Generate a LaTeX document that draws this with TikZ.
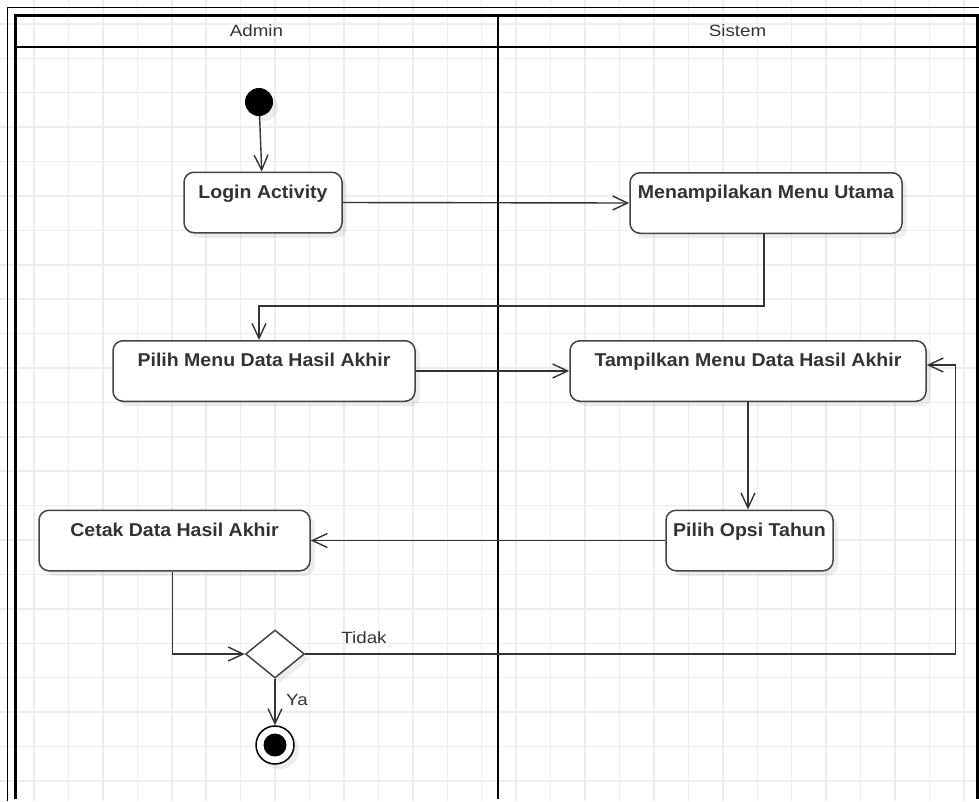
\documentclass[tikz,border=0pt]{standalone}
\usepackage{fontspec}
\setmainfont{Liberation Sans}
\newfontfamily\labelfont[FakeStretch=1.15]{Liberation Sans}
\newfontfamily\actfont[FakeStretch=1.05]{Liberation Sans}
\usetikzlibrary{arrows.meta,shapes.geometric,shadows,calc}

\definecolor{ink}{HTML}{333333}
\definecolor{edge}{HTML}{444444}
\definecolor{gridc}{HTML}{EDEDED}

\begin{document}
\begin{tikzpicture}[x=1pt,y=-1pt,
  gridline/.style={gridc,line width=1.5pt},
  softshadow/.style={drop shadow={shadow xshift=5pt,shadow yshift=-5pt,fill=black,opacity=0.07}},
  act/.style={draw=edge,line width=1.5pt,rounded corners=10pt,fill=white,
    inner xsep=0pt,inner ysep=0pt,text height=26pt,text depth=34.5pt,
    font=\actfont\bfseries\fontsize{18.6}{22}\selectfont,text=ink,softshadow},
  flow/.style={draw=ink,line width=1.4pt,-{Straight Barb[length=15pt,width=14pt,line width=1.4pt]}},
  lbl/.style={font=\labelfont\fontsize{16.3}{19}\selectfont,text=ink,inner sep=0pt},
  lane/.style={black,line width=2.5pt},
  frame/.style={black,line width=1.3pt}]

\useasboundingbox (0,0) rectangle (979,801);

% background grid
\foreach \k in {1,...,28}
  \draw[gridline] ({\k*34.44-0.44},0) -- ++(0,801);
\foreach \k in {0,...,22}
  \draw[gridline] (0,{23.9+\k*34.41}) -- ++(979,0);

% outer frame and swimlanes
\draw[frame] (7.5,801) -- (7.5,7.5) -- (979,7.5);
\draw[lane] (15.5,799) -- (15.5,15.5) -- (977.5,15.5) -- (977.5,799);
\draw[lane] (15.5,47) -- (977.5,47);
\draw[lane] (498,15.5) -- (498,799);
\node[lbl] (hadmin) at (256.5,31) {Admin};
\node[lbl] (hsistem) at (737.5,31) {Sistem};

% activities
\node[circle,fill=black,minimum size=28pt,inner sep=0pt,softshadow] (start) at (259,102) {};
\node[act,minimum width=158pt] (login) at (263,202.5) {Login Activity};
\node[act,minimum width=272pt] (menu) at (766,203) {Menampilakan Menu Utama};
\node[act,minimum width=302pt] (pilih) at (264,371) {Pilih Menu Data Hasil Akhir};
\node[act,minimum width=356pt] (tampil) at (748,371) {Tampilkan Menu Data Hasil Akhir};
\node[act,minimum width=167pt] (opsi) at (749.5,540.5) {Pilih Opsi Tahun};
\node[act,minimum width=271pt] (cetak) at (174.5,540.5) {Cetak Data Hasil Akhir};
\node[diamond,draw=edge,line width=1.5pt,fill=white,minimum width=59pt,minimum height=48pt,inner sep=0pt,softshadow] (dec) at (275,654) {};
\node[circle,draw=black,line width=1.5pt,fill=white,minimum size=38pt,inner sep=0pt,softshadow] (end) at (275,745) {};
\node[circle,fill=black,minimum size=23pt,inner sep=0pt] (endcore) at (end.center) {};

% control flow
\draw[flow] (start) -- (login);
\draw[flow] (login.east) -- (menu.west);
\draw[flow] ($(menu.south)+(-2,0)$) -- ++(0,72) -| ($(pilih.north)+(-5,0)$);
\draw[flow] (pilih.east) -- (tampil.west);
\draw[flow] (tampil.south) -- (tampil.south |- opsi.north);
\draw[flow] (opsi.west) -- (cetak.east);
\draw[flow] ($(cetak.south)+(-2,0)$) |- (dec.west);
\draw[flow] (dec.south) -- (end.north);
\draw[flow] (dec.east) -| ($(tampil.east)+(29,-6)$) -- ($(tampil.east)+(0,-6)$);

\node[lbl] (tidak) at (364,638) {Tidak};
\node[lbl] (ya) at (297,700) {Ya};
\end{tikzpicture}
\end{document}
